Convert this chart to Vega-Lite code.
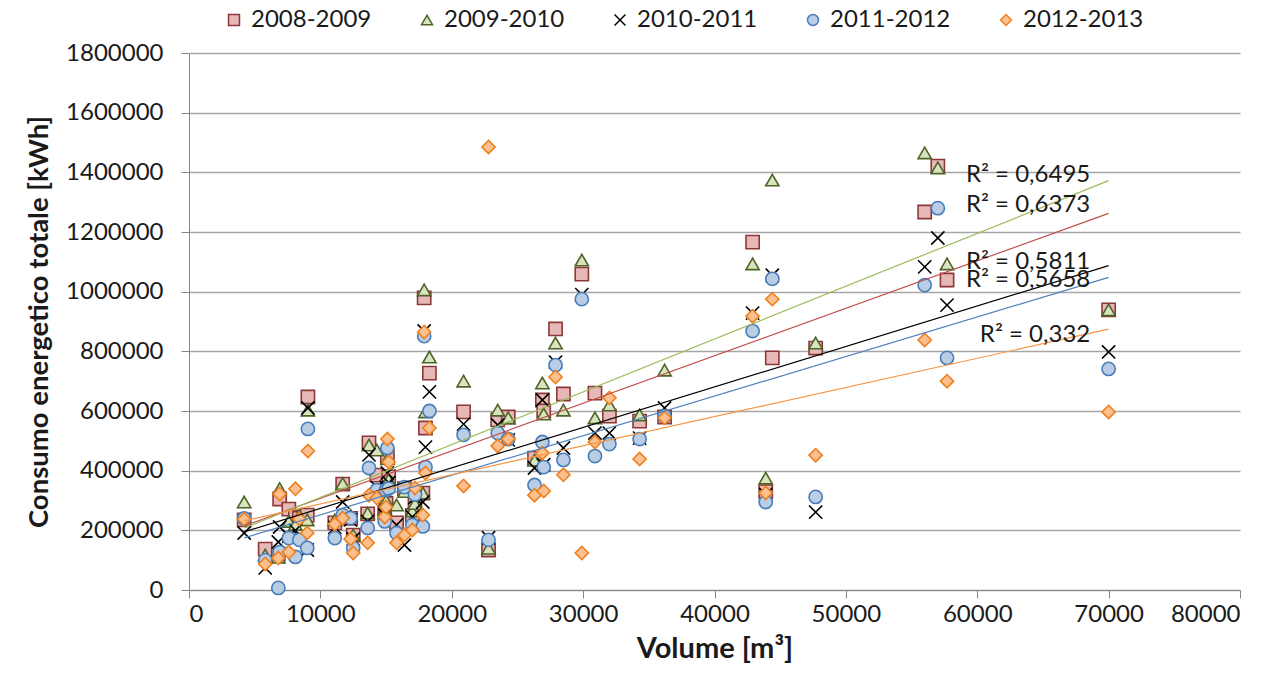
{
 "$schema": "https://vega.github.io/schema/vega-lite/v6.json",
 "width": 1051, "height": 537,
 "autosize": {"type": "none"},
 "padding": {"left": 189, "top": 53, "right": 38, "bottom": 91},
 "background": "white",
 "config": {"font": "Lato", "view": {"stroke": null}},
 "datasets": {
  "pts": [
   {"s":"2008-2009","v":4200,"c":235000},{"s":"2008-2009","v":5800,"c":137000},{"s":"2008-2009","v":6800,"c":120000},{"s":"2008-2009","v":6900,"c":305000},{"s":"2008-2009","v":7600,"c":271000},{"s":"2008-2009","v":8100,"c":245000},{"s":"2008-2009","v":8400,"c":240000},{"s":"2008-2009","v":9000,"c":251000},{"s":"2008-2009","v":9050,"c":647000},{"s":"2008-2009","v":11100,"c":225000},{"s":"2008-2009","v":11700,"c":355000},{"s":"2008-2009","v":12300,"c":240000},{"s":"2008-2009","v":12500,"c":184000},{"s":"2008-2009","v":13600,"c":255000},{"s":"2008-2009","v":13700,"c":493000},{"s":"2008-2009","v":14300,"c":385000},{"s":"2008-2009","v":14900,"c":260000},{"s":"2008-2009","v":15000,"c":290000},{"s":"2008-2009","v":15100,"c":449000},{"s":"2008-2009","v":15200,"c":380000},{"s":"2008-2009","v":15800,"c":225000},{"s":"2008-2009","v":16400,"c":340000},{"s":"2008-2009","v":17000,"c":250000},{"s":"2008-2009","v":17200,"c":300000},{"s":"2008-2009","v":17800,"c":325000},{"s":"2008-2009","v":17900,"c":979000},{"s":"2008-2009","v":18000,"c":543000},{"s":"2008-2009","v":18300,"c":727000},{"s":"2008-2009","v":20900,"c":597000},{"s":"2008-2009","v":22800,"c":134000},{"s":"2008-2009","v":23500,"c":570000},{"s":"2008-2009","v":24300,"c":580000},{"s":"2008-2009","v":26300,"c":442000},{"s":"2008-2009","v":26900,"c":637000},{"s":"2008-2009","v":27000,"c":600000},{"s":"2008-2009","v":27900,"c":875000},{"s":"2008-2009","v":28500,"c":657000},{"s":"2008-2009","v":29900,"c":1059000},{"s":"2008-2009","v":30900,"c":660000},{"s":"2008-2009","v":32000,"c":583000},{"s":"2008-2009","v":34300,"c":566000},{"s":"2008-2009","v":36200,"c":580000},{"s":"2008-2009","v":42900,"c":1166000},{"s":"2008-2009","v":43900,"c":330000},{"s":"2008-2009","v":44400,"c":778000},{"s":"2008-2009","v":47700,"c":811000},{"s":"2008-2009","v":56000,"c":1267000},{"s":"2008-2009","v":57000,"c":1421000},{"s":"2008-2009","v":57700,"c":1039000},{"s":"2008-2009","v":70000,"c":939000},
   {"s":"2009-2010","v":4200,"c":295000},{"s":"2009-2010","v":5800,"c":117000},{"s":"2009-2010","v":6800,"c":110000},{"s":"2009-2010","v":6900,"c":340000},{"s":"2009-2010","v":7600,"c":230000},{"s":"2009-2010","v":8100,"c":220000},{"s":"2009-2010","v":8400,"c":250000},{"s":"2009-2010","v":9000,"c":235000},{"s":"2009-2010","v":9050,"c":603000},{"s":"2009-2010","v":11100,"c":235000},{"s":"2009-2010","v":11700,"c":357000},{"s":"2009-2010","v":12300,"c":250000},{"s":"2009-2010","v":12500,"c":184000},{"s":"2009-2010","v":13600,"c":258000},{"s":"2009-2010","v":13700,"c":486000},{"s":"2009-2010","v":14300,"c":469000},{"s":"2009-2010","v":14900,"c":270000},{"s":"2009-2010","v":15000,"c":300000},{"s":"2009-2010","v":15100,"c":440000},{"s":"2009-2010","v":15200,"c":370000},{"s":"2009-2010","v":15800,"c":285000},{"s":"2009-2010","v":16400,"c":330000},{"s":"2009-2010","v":17000,"c":265000},{"s":"2009-2010","v":17200,"c":290000},{"s":"2009-2010","v":17800,"c":325000},{"s":"2009-2010","v":17900,"c":1006000},{"s":"2009-2010","v":18000,"c":597000},{"s":"2009-2010","v":18300,"c":781000},{"s":"2009-2010","v":20900,"c":700000},{"s":"2009-2010","v":22800,"c":140000},{"s":"2009-2010","v":23500,"c":603000},{"s":"2009-2010","v":24300,"c":577000},{"s":"2009-2010","v":26300,"c":435000},{"s":"2009-2010","v":26900,"c":694000},{"s":"2009-2010","v":27000,"c":590000},{"s":"2009-2010","v":27900,"c":828000},{"s":"2009-2010","v":28500,"c":603000},{"s":"2009-2010","v":29900,"c":1106000},{"s":"2009-2010","v":30900,"c":577000},{"s":"2009-2010","v":32000,"c":620000},{"s":"2009-2010","v":34300,"c":587000},{"s":"2009-2010","v":36200,"c":737000},{"s":"2009-2010","v":42900,"c":1093000},{"s":"2009-2010","v":43900,"c":375000},{"s":"2009-2010","v":44400,"c":1374000},{"s":"2009-2010","v":47700,"c":828000},{"s":"2009-2010","v":56000,"c":1465000},{"s":"2009-2010","v":57000,"c":1415000},{"s":"2009-2010","v":57700,"c":1093000},{"s":"2009-2010","v":70000,"c":939000},
   {"s":"2010-2011","v":4200,"c":191000},{"s":"2010-2011","v":5800,"c":74000},{"s":"2010-2011","v":6800,"c":161000},{"s":"2010-2011","v":6900,"c":211000},{"s":"2010-2011","v":7600,"c":180000},{"s":"2010-2011","v":8100,"c":200000},{"s":"2010-2011","v":8400,"c":180000},{"s":"2010-2011","v":9000,"c":134000},{"s":"2010-2011","v":9050,"c":610000},{"s":"2010-2011","v":11100,"c":210000},{"s":"2010-2011","v":11700,"c":295000},{"s":"2010-2011","v":12300,"c":235000},{"s":"2010-2011","v":12500,"c":171000},{"s":"2010-2011","v":13600,"c":230000},{"s":"2010-2011","v":13700,"c":453000},{"s":"2010-2011","v":14300,"c":345000},{"s":"2010-2011","v":14900,"c":250000},{"s":"2010-2011","v":15000,"c":345000},{"s":"2010-2011","v":15100,"c":392000},{"s":"2010-2011","v":15200,"c":360000},{"s":"2010-2011","v":15800,"c":218000},{"s":"2010-2011","v":16400,"c":151000},{"s":"2010-2011","v":17000,"c":245000},{"s":"2010-2011","v":17200,"c":310000},{"s":"2010-2011","v":17800,"c":295000},{"s":"2010-2011","v":17900,"c":868000},{"s":"2010-2011","v":18000,"c":479000},{"s":"2010-2011","v":18300,"c":664000},{"s":"2010-2011","v":20900,"c":556000},{"s":"2010-2011","v":22800,"c":175000},{"s":"2010-2011","v":23500,"c":553000},{"s":"2010-2011","v":24300,"c":503000},{"s":"2010-2011","v":26300,"c":409000},{"s":"2010-2011","v":26900,"c":637000},{"s":"2010-2011","v":27000,"c":420000},{"s":"2010-2011","v":27900,"c":764000},{"s":"2010-2011","v":28500,"c":476000},{"s":"2010-2011","v":29900,"c":990000},{"s":"2010-2011","v":30900,"c":526000},{"s":"2010-2011","v":32000,"c":526000},{"s":"2010-2011","v":34300,"c":509000},{"s":"2010-2011","v":36200,"c":610000},{"s":"2010-2011","v":42900,"c":928000},{"s":"2010-2011","v":43900,"c":320000},{"s":"2010-2011","v":44400,"c":1055000},{"s":"2010-2011","v":47700,"c":261000},{"s":"2010-2011","v":56000,"c":1083000},{"s":"2010-2011","v":57000,"c":1180000},{"s":"2010-2011","v":57700,"c":955000},{"s":"2010-2011","v":70000,"c":798000},
   {"s":"2011-2012","v":4200,"c":240000},{"s":"2011-2012","v":5800,"c":100000},{"s":"2011-2012","v":6800,"c":7000},{"s":"2011-2012","v":6900,"c":127000},{"s":"2011-2012","v":7600,"c":174000},{"s":"2011-2012","v":8100,"c":111000},{"s":"2011-2012","v":8400,"c":168000},{"s":"2011-2012","v":9000,"c":141000},{"s":"2011-2012","v":9050,"c":540000},{"s":"2011-2012","v":11100,"c":174000},{"s":"2011-2012","v":11700,"c":251000},{"s":"2011-2012","v":12300,"c":241000},{"s":"2011-2012","v":12500,"c":141000},{"s":"2011-2012","v":13600,"c":208000},{"s":"2011-2012","v":13700,"c":409000},{"s":"2011-2012","v":14300,"c":335000},{"s":"2011-2012","v":14900,"c":230000},{"s":"2011-2012","v":15000,"c":335000},{"s":"2011-2012","v":15100,"c":476000},{"s":"2011-2012","v":15200,"c":340000},{"s":"2011-2012","v":15800,"c":191000},{"s":"2011-2012","v":16400,"c":345000},{"s":"2011-2012","v":17000,"c":218000},{"s":"2011-2012","v":17200,"c":320000},{"s":"2011-2012","v":17800,"c":213000},{"s":"2011-2012","v":17900,"c":851000},{"s":"2011-2012","v":18000,"c":412000},{"s":"2011-2012","v":18300,"c":600000},{"s":"2011-2012","v":20900,"c":520000},{"s":"2011-2012","v":22800,"c":168000},{"s":"2011-2012","v":23500,"c":526000},{"s":"2011-2012","v":24300,"c":506000},{"s":"2011-2012","v":26300,"c":352000},{"s":"2011-2012","v":26900,"c":496000},{"s":"2011-2012","v":27000,"c":412000},{"s":"2011-2012","v":27900,"c":754000},{"s":"2011-2012","v":28500,"c":436000},{"s":"2011-2012","v":29900,"c":975000},{"s":"2011-2012","v":30900,"c":449000},{"s":"2011-2012","v":32000,"c":489000},{"s":"2011-2012","v":34300,"c":506000},{"s":"2011-2012","v":36200,"c":583000},{"s":"2011-2012","v":42900,"c":868000},{"s":"2011-2012","v":43900,"c":295000},{"s":"2011-2012","v":44400,"c":1043000},{"s":"2011-2012","v":47700,"c":312000},{"s":"2011-2012","v":56000,"c":1022000},{"s":"2011-2012","v":57000,"c":1280000},{"s":"2011-2012","v":57700,"c":778000},{"s":"2011-2012","v":70000,"c":741000},
   {"s":"2012-2013","v":4200,"c":237000},{"s":"2012-2013","v":5800,"c":87000},{"s":"2012-2013","v":6800,"c":107000},{"s":"2012-2013","v":6900,"c":322000},{"s":"2012-2013","v":7600,"c":127000},{"s":"2012-2013","v":8100,"c":339000},{"s":"2012-2013","v":8400,"c":238000},{"s":"2012-2013","v":9000,"c":191000},{"s":"2012-2013","v":9050,"c":466000},{"s":"2012-2013","v":11100,"c":221000},{"s":"2012-2013","v":11700,"c":241000},{"s":"2012-2013","v":12300,"c":171000},{"s":"2012-2013","v":12500,"c":124000},{"s":"2012-2013","v":13600,"c":158000},{"s":"2012-2013","v":13700,"c":318000},{"s":"2012-2013","v":14300,"c":308000},{"s":"2012-2013","v":14900,"c":245000},{"s":"2012-2013","v":15000,"c":278000},{"s":"2012-2013","v":15100,"c":506000},{"s":"2012-2013","v":15200,"c":429000},{"s":"2012-2013","v":15800,"c":158000},{"s":"2012-2013","v":16400,"c":184000},{"s":"2012-2013","v":17000,"c":201000},{"s":"2012-2013","v":17200,"c":342000},{"s":"2012-2013","v":17800,"c":251000},{"s":"2012-2013","v":17900,"c":865000},{"s":"2012-2013","v":18000,"c":392000},{"s":"2012-2013","v":18300,"c":543000},{"s":"2012-2013","v":20900,"c":349000},{"s":"2012-2013","v":22800,"c":1485000},{"s":"2012-2013","v":23500,"c":483000},{"s":"2012-2013","v":24300,"c":506000},{"s":"2012-2013","v":26300,"c":318000},{"s":"2012-2013","v":26900,"c":459000},{"s":"2012-2013","v":27000,"c":332000},{"s":"2012-2013","v":27900,"c":714000},{"s":"2012-2013","v":28500,"c":386000},{"s":"2012-2013","v":29900,"c":124000},{"s":"2012-2013","v":30900,"c":496000},{"s":"2012-2013","v":32000,"c":644000},{"s":"2012-2013","v":34300,"c":439000},{"s":"2012-2013","v":36200,"c":577000},{"s":"2012-2013","v":42900,"c":918000},{"s":"2012-2013","v":43900,"c":325000},{"s":"2012-2013","v":44400,"c":975000},{"s":"2012-2013","v":47700,"c":452000},{"s":"2012-2013","v":56000,"c":838000},{"s":"2012-2013","v":57700,"c":700000},{"s":"2012-2013","v":70000,"c":597000}
  ],
  "r2": [
   {"t":"R² = 0,6495","v":68600,"c":1391000},
   {"t":"R² = 0,6373","v":68600,"c":1290000},
   {"t":"R² = 0,5811","v":68600,"c":1099000},
   {"t":"R² = 0,5658","v":68600,"c":1039000},
   {"t":"R² = 0,332","v":68600,"c":855000}
  ]
 },
 "layer": [
  {
   "data": {"name": "pts"},
   "mark": {"type": "point", "filled": true, "opacity": 1, "strokeWidth": 1.6, "size": 175},
   "encoding": {
    "x": {"field": "v", "type": "quantitative",
     "scale": {"domain": [0, 80000], "nice": false, "zero": false},
     "axis": {"values": [0,10000,20000,30000,40000,50000,60000,70000,80000], "format": "d", "grid": false,
      "domainColor": "#868686", "tickColor": "#868686", "tickSize": 8, "labelFontSize": 24, "labelColor": "#1a1a1a",
      "labelPadding": 4, "title": "Volume [m³]", "titleFontSize": 29, "titleFontWeight": "bold", "titleColor": "#1a1a1a", "titlePadding": 8}},
    "y": {"field": "c", "type": "quantitative",
     "scale": {"domain": [0, 1800000], "nice": false},
     "axis": {"values": [0,200000,400000,600000,800000,1000000,1200000,1400000,1600000,1800000], "format": "d", "grid": true,
      "gridColor": "#A6A6A6", "gridWidth": 1.3, "domainColor": "#868686", "tickColor": "#868686", "tickSize": 8,
      "labelFontSize": 24, "labelColor": "#1a1a1a", "labelPadding": 18,
      "title": "Consumo energetico totale [kWh]", "titleFontSize": 27.5, "titleFontWeight": "bold", "titleColor": "#1a1a1a", "titlePadding": 12}},
    "shape": {"field": "s", "type": "nominal", "title": null,
     "scale": {"domain": ["2008-2009","2009-2010","2010-2011","2011-2012","2012-2013"],
      "range": ["square","triangle-up","M-1,-1L1,1M-1,1L1,-1","circle","diamond"]},
     "legend": {"orient": "none", "legendX": 33, "legendY": -45, "direction": "horizontal", "columns": 5,
      "labelFontSize": 24, "labelColor": "#1a1a1a", "symbolSize": 120, "symbolStrokeWidth": 1.5, "columnPadding": 43, "labelOffset": 5}},
    "fill": {"field": "s", "type": "nominal", "title": null,
     "scale": {"domain": ["2008-2009","2009-2010","2010-2011","2011-2012","2012-2013"],
      "range": ["#E6B9B8","#D7E4BD","transparent","#B9CDE5","#FAC090"]}},
    "stroke": {"field": "s", "type": "nominal", "title": null,
     "scale": {"domain": ["2008-2009","2009-2010","2010-2011","2011-2012","2012-2013"],
      "range": ["#8C3836","#4F6228","#000000","#4A7EBB","#F07F1E"]}}
   }
  },
  {
   "data": {"name": "pts"},
   "transform": [{"regression": "c", "on": "v", "groupby": ["s"]}],
   "mark": {"type": "line", "strokeWidth": 1.2},
   "encoding": {
    "x": {"field": "v", "type": "quantitative"},
    "y": {"field": "c", "type": "quantitative"},
    "color": {"field": "s", "type": "nominal", "legend": null,
     "scale": {"domain": ["2008-2009","2009-2010","2010-2011","2011-2012","2012-2013"],
      "range": ["#C0504D","#9BBB59","#000000","#4F81BD","#F79646"]}}
   }
  },
  {
   "data": {"name": "r2"},
   "mark": {"type": "text", "align": "right", "baseline": "middle", "fontSize": 24, "color": "#1a1a1a"},
   "encoding": {
    "x": {"field": "v", "type": "quantitative"},
    "y": {"field": "c", "type": "quantitative"},
    "text": {"field": "t"}
   }
  }
 ]
}
